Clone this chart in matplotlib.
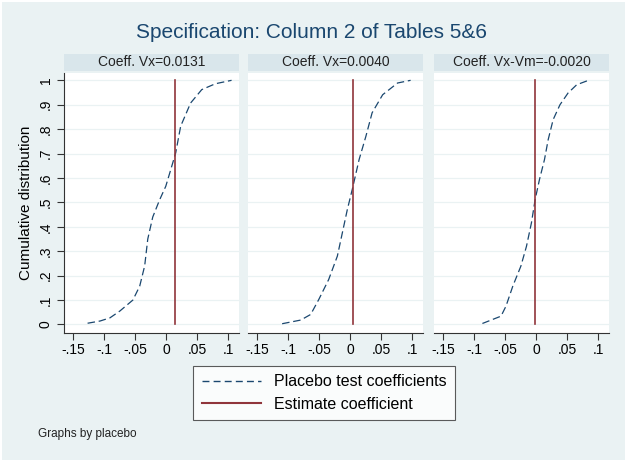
import numpy as np
import matplotlib
matplotlib.use('Agg')
from matplotlib import pyplot as plt
from matplotlib.lines import Line2D
from matplotlib.patches import Rectangle

plt.rcParams['font.family'] = ['Liberation Sans', 'DejaVu Sans']

BG = '#eaf2f3'
STRIP = '#d9e6eb'
NAVY = '#1a476f'
MAROON = '#90353b'

titles = ['Coeff. Vx=0.0131', 'Coeff. Vx=0.0040', 'Coeff. Vx-Vm=-0.0020']
estimates = [0.0131, 0.0040, -0.0020]

# placebo CDFs
x1 = [-0.127, -0.107, -0.091, -0.075, -0.054, -0.043, -0.035, -0.030, -0.022,
      -0.011, -0.001, 0.007, 0.015, 0.023, 0.039, 0.057, 0.079, 0.105]
y1 = [0.005, 0.014, 0.027, 0.055, 0.100, 0.157, 0.240, 0.350, 0.440,
      0.510, 0.566, 0.634, 0.703, 0.812, 0.907, 0.962, 0.986, 1.0]
x2 = [-0.110, -0.080, -0.064, -0.051, -0.035, -0.021, -0.013, -0.005, 0.003,
      0.014, 0.025, 0.035, 0.052, 0.076, 0.097]
y2 = [0.003, 0.018, 0.041, 0.102, 0.184, 0.280, 0.375, 0.470, 0.553,
      0.675, 0.771, 0.867, 0.941, 0.989, 1.0]
x3 = [-0.087, -0.057, -0.049, -0.038, -0.025, -0.016, -0.008, -0.002, 0.005,
      0.013, 0.019, 0.027, 0.038, 0.051, 0.065, 0.084]
y3 = [0.004, 0.034, 0.075, 0.157, 0.239, 0.320, 0.416, 0.512, 0.594,
      0.675, 0.757, 0.839, 0.900, 0.948, 0.982, 1.0]
curves = [(x1, y1), (x2, y2), (x3, y3)]

xticks = [-0.15, -0.1, -0.05, 0, 0.05, 0.1]
xticklabels = ['-.15', '-.1', '-.05', '0', '.05', '.1']
yticks = np.round(np.arange(0, 1.01, 0.1), 1)
yticklabels = ['0'] + ['.%d' % i for i in range(1, 10)] + ['1']

W, H = 625, 462
fig = plt.figure(figsize=(6.25, 4.62), dpi=100)
fig.patch.set_facecolor('white')
fig.patches.append(Rectangle((2 / W, 2 / H), 1 - 2 / W, 1 - 4 / H,
                             transform=fig.transFigure, facecolor=BG,
                             edgecolor='none', zorder=-10))

fig.text(312 / W, 1 - 33 / H, 'Specification: Column 2 of Tables 5&6',
         ha='center', va='center', fontsize=15, color=NAVY)

lefts = [64, 248, 434]
width = 175
top, bottom = 73, 333
for i, left in enumerate(lefts):
    ax = fig.add_axes([left / W, 1 - bottom / H, width / W, (bottom - top) / H])
    ax.set_facecolor('white')
    xs, ys = curves[i]
    ax.plot(xs, ys, color=NAVY, lw=0.9, ls=(0, (6, 3)))
    ax.plot([estimates[i], estimates[i]], [0, 1], color=MAROON, lw=1.2)
    ax.set_xlim(-0.165, 0.117)
    ax.set_ylim(-0.035, 1.03)
    for yt in yticks:
        ax.axhline(yt, color=BG, lw=0.9, zorder=0)
    ax.set_xticks(xticks)
    ax.set_xticklabels(xticklabels, fontsize=10)
    ax.set_yticks(yticks)
    ax.tick_params(axis='x', length=5, width=0.8, color='#333333', pad=2)
    for s in ['top', 'right']:
        ax.spines[s].set_visible(False)
    ax.spines['bottom'].set_color('#333333')
    ax.spines['bottom'].set_linewidth(0.8)
    if i == 0:
        ax.set_yticklabels(yticklabels, fontsize=10, rotation=90, va='center')
        ax.tick_params(axis='y', length=5, width=0.8, color='#333333', pad=3)
        ax.spines['left'].set_color('#333333')
        ax.spines['left'].set_linewidth(0.8)
        ax.set_ylabel('Cumulative distribution', fontsize=11, labelpad=4)
    else:
        ax.set_yticklabels([])
        ax.tick_params(axis='y', length=0)
        ax.spines['left'].set_visible(False)
    # strip title
    fig.patches.append(Rectangle((left / W, 1 - 71 / H), width / W, 17 / H,
                                 transform=fig.transFigure, facecolor=STRIP,
                                 edgecolor='none'))
    fig.text((left + width / 2) / W, 1 - 62 / H, titles[i], ha='center',
             va='center', fontsize=10, color='#222222')

handles = [Line2D([], [], color=NAVY, lw=1, ls=(0, (5, 3))),
           Line2D([], [], color=MAROON, lw=1.5)]
leg = fig.legend(handles, ['Placebo test coefficients', 'Estimate coefficient'],
                 loc='center', bbox_to_anchor=(324 / W, 1 - 393 / H),
                 fontsize=11.5, frameon=True, fancybox=False, handlelength=3.7,
                 borderpad=0.55, labelspacing=0.45, handletextpad=0.8)
leg.get_frame().set_edgecolor('#333333')
leg.get_frame().set_linewidth(0.8)

fig.text(38 / W, 1 - 434 / H, 'Graphs by placebo', ha='left', va='center',
         fontsize=8.5, color='#222222')

fig.savefig('out.png', dpi=100, facecolor=fig.get_facecolor())
